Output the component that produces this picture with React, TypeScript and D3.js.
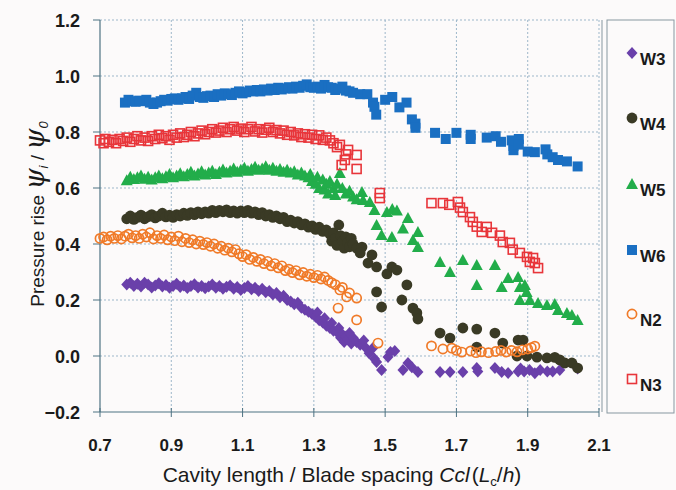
import * as d3 from 'd3'

const xTicks = [0.7, 0.9, 1.1, 1.3, 1.5, 1.7, 1.9, 2.1]
const yTicks = [-0.2, 0.0, 0.2, 0.4, 0.6, 0.8, 1.0, 1.2]

const seriesNames = ['W3', 'W4', 'W5', 'W6', 'N2', 'N3']

const w3: [number, number][] = [
  [0.775,0.255],[0.785,0.262],[0.795,0.25],[0.805,0.258],[0.815,0.248],[0.825,0.262],[0.835,0.255],[0.845,0.245],[0.855,0.252],[0.865,0.26],
  [0.875,0.248],[0.885,0.254],[0.895,0.244],[0.905,0.25],[0.915,0.258],[0.925,0.246],[0.935,0.252],[0.945,0.243],[0.955,0.25],[0.965,0.256],
  [0.975,0.245],[0.985,0.25],[0.995,0.242],[1.005,0.248],[1.015,0.255],[1.025,0.244],[1.035,0.25],[1.045,0.24],[1.055,0.247],[1.065,0.252],
  [1.075,0.24],[1.085,0.246],[1.095,0.236],[1.105,0.243],[1.115,0.25],[1.125,0.238],[1.135,0.244],[1.145,0.232],[1.155,0.24],[1.165,0.228],
  [1.175,0.232],[1.185,0.22],[1.195,0.225],[1.205,0.21],[1.215,0.215],[1.225,0.2],[1.235,0.195],[1.245,0.185],[1.255,0.19],[1.265,0.172],
  [1.275,0.165],[1.285,0.158],[1.295,0.15],[1.305,0.14],[1.31,0.155],[1.315,0.128],[1.325,0.12],[1.33,0.135],[1.335,0.108],[1.345,0.1],
  [1.35,0.118],[1.355,0.09],[1.365,0.085],[1.37,0.1],[1.375,0.065],[1.38,0.078],[1.385,0.05],[1.39,0.07],[1.395,0.06],[1.40,0.082],
  [1.405,0.045],[1.41,0.065],[1.42,0.05],[1.43,0.04],[1.44,0.055],[1.445,0.03],[1.455,0.01],[1.465,0.028],[1.47,-0.01],[1.476,-0.021],
  [1.49,-0.05],[1.508,-0.004],[1.515,0.014],[1.527,0.018],[1.55,-0.05],[1.564,-0.025],[1.575,-0.04],[1.592,-0.057],[1.654,-0.057],[1.682,-0.057],
  [1.718,-0.057],[1.757,-0.043],[1.76,-0.055],[1.808,-0.043],[1.827,-0.057],[1.845,-0.061],[1.873,-0.055],[1.88,-0.045],[1.89,-0.055],[1.905,-0.05],
  [1.92,-0.062],[1.935,-0.05],[1.955,-0.055],[1.97,-0.055],[1.99,-0.05],[2.04,-0.045],
]

const w4: [number, number][] = [
  [0.775,0.49],[0.785,0.5],[0.795,0.488],[0.805,0.495],[0.815,0.503],[0.825,0.49],[0.835,0.498],[0.845,0.505],[0.855,0.493],[0.865,0.5],
  [0.875,0.51],[0.885,0.497],[0.895,0.503],[0.905,0.495],[0.915,0.505],[0.925,0.5],[0.935,0.51],[0.945,0.502],[0.955,0.512],[0.965,0.505],
  [0.975,0.515],[0.985,0.508],[0.995,0.515],[1.005,0.51],[1.015,0.52],[1.025,0.512],[1.035,0.52],[1.045,0.515],[1.055,0.522],[1.065,0.512],
  [1.075,0.518],[1.085,0.51],[1.095,0.518],[1.105,0.512],[1.115,0.52],[1.125,0.51],[1.135,0.515],[1.145,0.505],[1.155,0.512],[1.165,0.5],
  [1.175,0.505],[1.185,0.495],[1.195,0.5],[1.205,0.49],[1.215,0.495],[1.225,0.48],[1.235,0.485],[1.245,0.475],[1.255,0.48],[1.265,0.468],
  [1.275,0.472],[1.285,0.46],[1.295,0.465],[1.305,0.452],[1.315,0.46],[1.325,0.445],[1.335,0.45],[1.345,0.435],[1.35,0.41],[1.355,0.44],
  [1.36,0.42],[1.365,0.395],[1.37,0.468],[1.375,0.43],[1.38,0.41],[1.385,0.385],[1.39,0.425],[1.395,0.405],[1.40,0.39],[1.405,0.42],
  [1.41,0.4],[1.42,0.385],[1.435,0.389],[1.43,0.368],[1.452,0.332],[1.463,0.361],[1.476,0.318],[1.505,0.293],[1.519,0.318],[1.533,0.307],
  [1.476,0.229],[1.49,0.175],[1.547,0.2],[1.561,0.254],[1.578,0.171],[1.589,0.154],[1.592,0.132],[1.654,0.082],[1.682,0.064],[1.718,0.1],
  [1.757,0.096],[1.757,0.032],[1.808,0.082],[1.83,0.046],[1.873,0.057],[1.887,0.057],[1.87,0.0],[1.898,0.0],[1.926,-0.004],[1.954,-0.007],
  [1.976,-0.005],[1.99,-0.014],[2.004,-0.025],[2.024,-0.025],[2.04,-0.043],
]

const w5: [number, number][] = [
  [0.775,0.628],[0.785,0.64],[0.795,0.632],[0.805,0.638],[0.815,0.645],[0.825,0.633],[0.835,0.64],[0.845,0.63],[0.855,0.638],[0.865,0.645],
  [0.875,0.635],[0.885,0.642],[0.895,0.65],[0.905,0.638],[0.915,0.645],[0.925,0.653],[0.935,0.642],[0.945,0.65],[0.955,0.658],[0.965,0.645],
  [0.975,0.652],[0.985,0.66],[0.995,0.648],[1.005,0.655],[1.015,0.662],[1.025,0.65],[1.035,0.658],[1.045,0.666],[1.055,0.655],[1.065,0.662],
  [1.075,0.67],[1.085,0.658],[1.095,0.665],[1.105,0.672],[1.115,0.662],[1.125,0.668],[1.135,0.676],[1.145,0.665],[1.155,0.67],[1.165,0.678],
  [1.175,0.665],[1.185,0.672],[1.195,0.662],[1.205,0.668],[1.215,0.658],[1.225,0.665],[1.235,0.655],[1.245,0.66],[1.255,0.648],[1.265,0.655],
  [1.275,0.645],[1.285,0.638],[1.29,0.65],[1.295,0.625],[1.305,0.615],[1.31,0.64],[1.315,0.6],[1.325,0.63],[1.33,0.595],[1.335,0.615],
  [1.34,0.58],[1.345,0.625],[1.355,0.6],[1.36,0.575],[1.365,0.615],[1.373,0.654],[1.38,0.6],[1.39,0.58],[1.40,0.59],[1.41,0.57],
  [1.42,0.56],[1.435,0.586],[1.438,0.557],[1.457,0.55],[1.47,0.521],[1.476,0.468],[1.49,0.432],[1.505,0.514],[1.52,0.525],[1.533,0.52],
  [1.519,0.425],[1.55,0.455],[1.564,0.493],[1.578,0.414],[1.592,0.443],[1.592,0.389],[1.654,0.336],[1.682,0.30],[1.718,0.343],[1.757,0.325],
  [1.757,0.254],[1.808,0.325],[1.827,0.246],[1.845,0.279],[1.873,0.282],[1.878,0.246],[1.892,0.254],[1.897,0.229],[1.878,0.2],[1.906,0.2],
  [1.929,0.189],[1.954,0.182],[1.976,0.186],[1.985,0.164],[2.01,0.154],[2.024,0.146],[2.04,0.129],
]

const w6: [number, number][] = [
  [0.77,0.905],[0.78,0.915],[0.79,0.91],[0.80,0.908],[0.81,0.912],[0.82,0.91],[0.83,0.915],[0.84,0.905],[0.85,0.9],[0.86,0.905],
  [0.87,0.91],[0.88,0.915],[0.89,0.912],[0.90,0.918],[0.91,0.92],[0.92,0.915],[0.93,0.92],[0.94,0.925],[0.95,0.918],[0.96,0.93],
  [0.97,0.94],[0.98,0.925],[0.99,0.922],[1.00,0.928],[1.01,0.93],[1.02,0.925],[1.03,0.935],[1.04,0.93],[1.05,0.938],[1.06,0.935],
  [1.07,0.932],[1.08,0.94],[1.09,0.945],[1.10,0.938],[1.11,0.942],[1.12,0.948],[1.13,0.945],[1.14,0.95],[1.15,0.945],[1.16,0.952],
  [1.17,0.948],[1.18,0.955],[1.19,0.95],[1.20,0.958],[1.21,0.952],[1.22,0.956],[1.23,0.96],[1.24,0.955],[1.25,0.962],[1.26,0.958],
  [1.27,0.965],[1.28,0.97],[1.29,0.96],[1.30,0.958],[1.31,0.962],[1.32,0.955],[1.33,0.968],[1.34,0.96],[1.35,0.958],[1.36,0.95],
  [1.37,0.955],[1.38,0.962],[1.39,0.948],[1.40,0.945],[1.41,0.94],[1.43,0.935],[1.45,0.935],[1.466,0.905],[1.47,0.89],[1.475,0.862],
  [1.50,0.915],[1.52,0.925],[1.54,0.888],[1.56,0.905],[1.575,0.845],[1.585,0.83],[1.585,0.815],[1.64,0.797],[1.67,0.775],[1.70,0.797],
  [1.74,0.79],[1.74,0.775],[1.785,0.78],[1.81,0.785],[1.825,0.765],[1.855,0.77],[1.86,0.75],[1.86,0.735],[1.875,0.775],[1.875,0.755],
  [1.90,0.73],[1.92,0.728],[1.95,0.738],[1.955,0.72],[1.97,0.71],[1.985,0.70],[2.01,0.695],[2.04,0.677],
]

const n2: [number, number][] = [
  [0.70,0.42],[0.71,0.425],[0.72,0.415],[0.73,0.428],[0.74,0.42],[0.75,0.43],[0.76,0.418],[0.77,0.428],[0.78,0.435],[0.79,0.422],
  [0.80,0.43],[0.81,0.42],[0.82,0.435],[0.83,0.425],[0.84,0.44],[0.85,0.418],[0.86,0.43],[0.87,0.42],[0.88,0.432],[0.89,0.415],
  [0.90,0.425],[0.91,0.412],[0.92,0.428],[0.93,0.408],[0.94,0.42],[0.95,0.405],[0.96,0.415],[0.97,0.4],[0.98,0.41],[0.99,0.398],
  [1.0,0.405],[1.01,0.392],[1.02,0.4],[1.03,0.385],[1.04,0.392],[1.05,0.378],[1.06,0.385],[1.07,0.372],[1.08,0.38],[1.09,0.365],
  [1.10,0.355],[1.11,0.362],[1.12,0.345],[1.13,0.352],[1.14,0.338],[1.15,0.345],[1.16,0.33],[1.17,0.338],[1.18,0.322],[1.19,0.33],
  [1.20,0.315],[1.21,0.322],[1.22,0.305],[1.23,0.31],[1.24,0.298],[1.25,0.305],[1.26,0.29],[1.27,0.298],[1.28,0.285],[1.29,0.292],
  [1.30,0.28],[1.31,0.288],[1.32,0.275],[1.33,0.282],[1.34,0.27],[1.35,0.262],[1.36,0.255],[1.368,0.171],[1.373,0.236],[1.38,0.245],
  [1.392,0.211],[1.40,0.225],[1.42,0.207],[1.42,0.129],[1.48,0.046],[1.63,0.036],[1.662,0.025],[1.687,0.028],[1.70,0.02],[1.715,0.014],
  [1.74,0.018],[1.755,0.012],[1.77,0.015],[1.79,0.012],[1.81,0.016],[1.825,0.02],[1.84,0.014],[1.855,0.02],[1.87,0.015],[1.885,0.022],
  [1.90,0.025],[1.91,0.03],[1.92,0.035],
]

const n3: [number, number][] = [
  [0.70,0.77],[0.71,0.76],[0.715,0.775],[0.725,0.765],[0.735,0.772],[0.745,0.76],[0.755,0.775],[0.765,0.768],[0.775,0.78],[0.785,0.765],
  [0.795,0.775],[0.805,0.785],[0.815,0.77],[0.825,0.78],[0.835,0.768],[0.845,0.785],[0.855,0.775],[0.865,0.79],[0.875,0.778],[0.885,0.785],
  [0.895,0.772],[0.905,0.79],[0.915,0.78],[0.925,0.795],[0.935,0.782],[0.945,0.79],[0.955,0.8],[0.965,0.785],[0.975,0.795],[0.985,0.805],
  [0.995,0.792],[1.005,0.8],[1.015,0.81],[1.025,0.798],[1.035,0.805],[1.045,0.815],[1.055,0.8],[1.065,0.81],[1.075,0.818],[1.085,0.805],
  [1.095,0.812],[1.105,0.8],[1.115,0.81],[1.125,0.818],[1.135,0.802],[1.145,0.81],[1.155,0.798],[1.165,0.808],[1.175,0.815],[1.185,0.8],
  [1.195,0.807],[1.205,0.795],[1.215,0.805],[1.225,0.79],[1.235,0.8],[1.245,0.788],[1.255,0.795],[1.265,0.782],[1.275,0.792],[1.285,0.78],
  [1.295,0.79],[1.305,0.775],[1.315,0.788],[1.325,0.772],[1.335,0.78],[1.345,0.77],[1.355,0.76],[1.365,0.746],[1.373,0.754],[1.378,0.682],
  [1.387,0.70],[1.39,0.72],[1.396,0.736],[1.42,0.718],[1.42,0.668],[1.485,0.582],[1.485,0.564],[1.63,0.546],[1.662,0.546],[1.68,0.54],
  [1.704,0.55],[1.71,0.53],[1.718,0.514],[1.738,0.496],[1.746,0.479],[1.757,0.462],[1.771,0.443],[1.785,0.461],[1.80,0.44],[1.822,0.43],
  [1.83,0.407],[1.85,0.404],[1.858,0.38],[1.878,0.368],[1.898,0.354],[1.906,0.336],[1.915,0.35],[1.92,0.332],[1.929,0.314],
]

const seriesData = [w3, w4, w5, w6, n2, n3]

type Shape = 'diamond' | 'circle' | 'triangle' | 'square' | 'ocircle' | 'osquare'
const shapes: Shape[] = ['diamond', 'circle', 'triangle', 'square', 'ocircle', 'osquare']
const colors = ['#6a40aa', '#3a3a25', '#22ad4a', '#1a6fc2', '#f07a28', '#e8353a']

const W = 676
const H = 490
const axisColor = '#4d7282'
const gridColor = '#9db7ca'
const textColor = '#1a1a1a'
const font = "'Liberation Sans', Arial, sans-serif"

function Marker({ shape, color, x, y }: { shape: Shape; color: string; x: number; y: number }) {
  switch (shape) {
    case 'diamond':
      return <path d={`M${x},${y - 6}L${x + 5.5},${y}L${x},${y + 6}L${x - 5.5},${y}Z`} fill={color} />
    case 'circle':
      return <circle cx={x} cy={y} r={5.4} fill={color} />
    case 'triangle':
      return <path d={`M${x},${y - 6}L${x + 6},${y + 5}L${x - 6},${y + 5}Z`} fill={color} />
    case 'square':
      return <rect x={x - 5} y={y - 5} width={10} height={10} fill={color} />
    case 'ocircle':
      return <circle cx={x} cy={y} r={4.6} fill="none" stroke={color} strokeWidth={1.7} />
    case 'osquare':
      return <rect x={x - 4.5} y={y - 4.5} width={9} height={9} fill="none" stroke={color} strokeWidth={1.6} />
  }
}

export default function App() {
  const x = d3.scaleLinear().domain([0.7, 2.1]).range([100, 599])
  const y = d3.scaleLinear().domain([-0.2, 1.2]).range([412, 20])
  const legendY = [53, 118, 184, 250, 314, 379]

  return (
    <svg width={W} height={H} style={{ position: 'absolute', left: 0, top: 0, background: '#fcfafa' }}>
      {/* grid */}
      {yTicks.slice(1).map(t => (
        <line key={'gy' + t} x1={100} x2={599} y1={y(t)} y2={y(t)} stroke={gridColor} strokeDasharray="2,2" />
      ))}
      {xTicks.slice(1).map(t => (
        <line key={'gx' + t} x1={x(t)} x2={x(t)} y1={20} y2={412} stroke={gridColor} strokeDasharray="2,2" />
      ))}
      <line x1={602} x2={602} y1={20} y2={412} stroke="#8797a0" />

      {/* axes */}
      <line x1={100} x2={100} y1={20} y2={412} stroke={axisColor} strokeWidth={1.2} />
      <line x1={100} x2={599} y1={412} y2={412} stroke={axisColor} strokeWidth={1.2} />
      {yTicks.map(t => (
        <g key={'ty' + t}>
          <line x1={93} x2={100} y1={y(t)} y2={y(t)} stroke={axisColor} />
          <text x={80} y={y(t) + 6.5} textAnchor="end" fontFamily={font} fontWeight="bold" fontSize={18} fill={textColor}>
            {t < 0 ? '\u2212' + Math.abs(t).toFixed(1) : t.toFixed(1)}
          </text>
        </g>
      ))}
      {xTicks.map(t => (
        <g key={'tx' + t}>
          <line x1={x(t)} x2={x(t)} y1={408} y2={417} stroke={axisColor} />
          <text x={x(t)} y={451} textAnchor="middle" fontFamily={font} fontWeight="bold" fontSize={17} fill={textColor}>
            {t.toFixed(1)}
          </text>
        </g>
      ))}

      {/* points */}
      {seriesData.map((pts, i) => (
        <g key={seriesNames[i]}>
          {pts.map((p, j) => (
            <Marker key={j} shape={shapes[i]} color={colors[i]} x={x(p[0])} y={y(p[1])} />
          ))}
        </g>
      ))}

      {/* axis titles */}
      <text x={342} y={482} textAnchor="middle" fontFamily={font} fontSize={21} fill={textColor}>
        Cavity length / Blade spacing <tspan fontStyle="italic">Ccl</tspan>
        <tspan dx={2}>(</tspan>
        <tspan fontStyle="italic">L</tspan>
        <tspan fontSize={13} dy={4}>c</tspan>
        <tspan dy={-4}>/</tspan>
        <tspan fontStyle="italic">h</tspan>)
      </text>
      <text transform="translate(44,214) rotate(-90)" textAnchor="middle" fontFamily={font} fontSize={19} fill={textColor}>
        Pressure rise{'  '}
        <tspan fontStyle="italic" fontSize={27} fontFamily="'DejaVu Serif', serif">ψ</tspan>
        <tspan fontStyle="italic" fontSize={13} dy={4}>i</tspan>
        <tspan dy={-4}> / </tspan>
        <tspan fontStyle="italic" fontSize={27} fontFamily="'DejaVu Serif', serif">ψ</tspan>
        <tspan fontStyle="italic" fontSize={13} dy={4}>0</tspan>
      </text>

      {/* legend */}
      <rect x={607} y={20} width={67} height={393} fill="none" stroke="#8797a0" strokeWidth={1} />
      {seriesNames.map((n, i) => (
        <g key={'lg' + n}>
          <Marker shape={shapes[i]} color={colors[i]} x={632} y={legendY[i]} />
          <text x={640} y={legendY[i] + 12} fontFamily={font} fontWeight="bold" fontSize={17} fill={textColor}>
            {n}
          </text>
        </g>
      ))}
    </svg>
  )
}
